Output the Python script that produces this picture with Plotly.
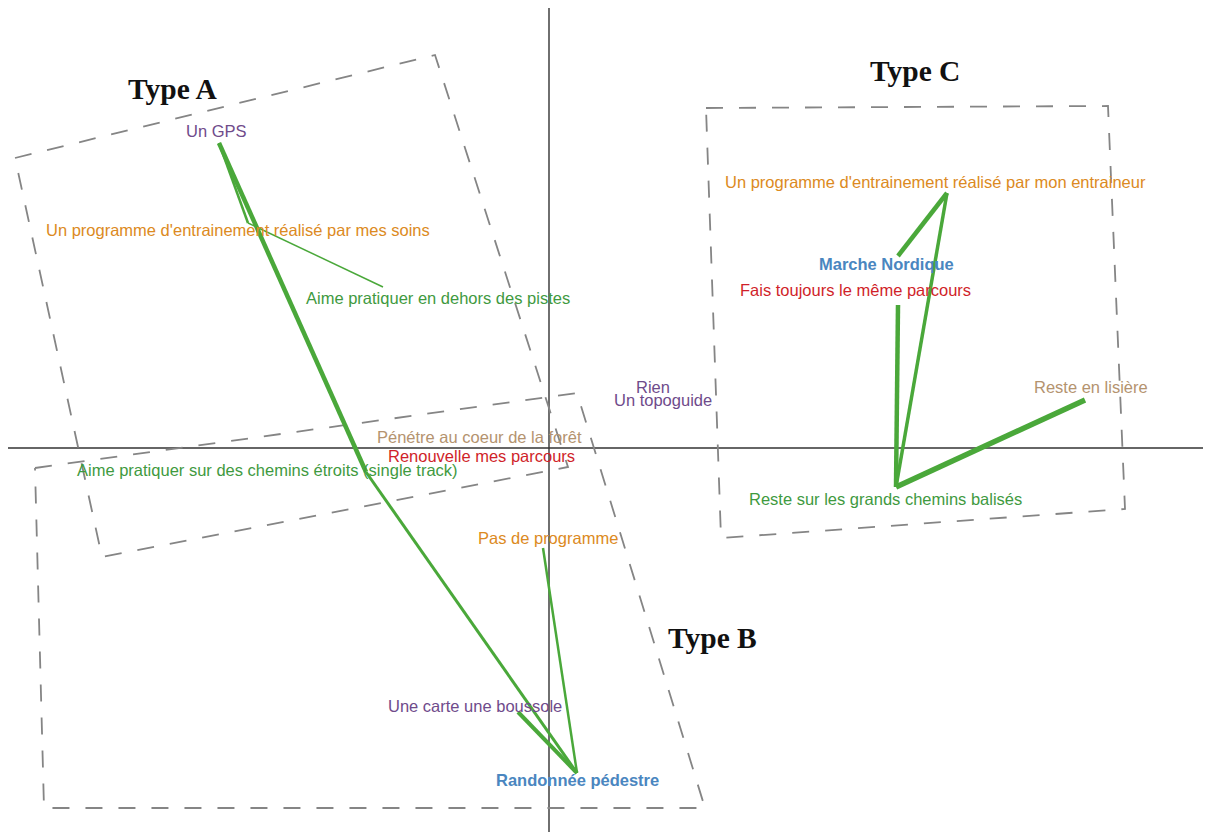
"""Correspondence-style map of hiking profiles (Type A / B / C) with Plotly."""

import plotly.graph_objects as go

# ----------------------------------------------------------------- data

# modalities: coordinates on axis 1 / axis 2
mod_names = [
    "Un GPS",
    "Un programme d'entrainement réalisé par mes soins",
    "Aime pratiquer en dehors des pistes",
    "Aime pratiquer sur des chemins étroits (single track)",
    "Randonnée pédestre",
    "Pas de programme",
    "Une carte une boussole",
    "Reste sur les grands chemins balisés",
    "Reste en lisière",
    "Fais toujours le même parcours",
    "Un programme d'entrainement réalisé par mon entraineur",
    "Marche Nordique",
    "Rien",
    "Un topoguide",
    "Pénétre au coeur de la forêt",
    "Renouvelle mes parcours",
]
mod_x = [-3.30, -3.01, -1.66, -1.83, 0.28, -0.06, -0.31, 3.47, 5.36, 3.49, 3.98, 3.49, 1.04, 1.14, -0.70, -0.68]
mod_y = [3.05, 2.25, 1.61, -0.24, -3.25, -1.00, -2.64, -0.39, 0.48, 1.43, 2.55, 1.92, 0.61, 0.48, 0.11, -0.08]
mod_group = [
    "outil", "programme", "terrain", "terrain", "activite", "programme", "outil",
    "terrain", "foret", "parcours", "programme", "activite", "outil", "outil", "foret", "parcours",
]

# links between modalities (index a, index b, strength)
edge_a = [0, 3, 0, 1, 4, 4, 7, 7, 7, 10]
edge_b = [3, 4, 1, 2, 5, 6, 8, 9, 10, 11]
edge_strength = [4.5, 3.0, 2.5, 1.5, 2.5, 4.0, 5.5, 4.5, 3.5, 4.5]

# profile envelopes
type_names = ["Type A", "Type B", "Type C"]
type_label_x = [-3.77, 1.63, 3.66]
type_label_y = [3.59, -1.90, 3.77]
type_a_x = [-5.34, -1.14, 0.19, -4.47]
type_a_y = [2.90, 3.93, -0.19, -1.09]
type_b_x = [-5.14, 0.28, 1.56, -5.05]
type_b_y = [-0.20, 0.55, -3.60, -3.60]
type_c_x = [1.57, 5.59, 5.76, 1.72]
type_c_y = [3.40, 3.42, -0.61, -0.90]

# axis extents
axis_x = [-5.41, 6.62]
axis_y = [4.40, -3.84]

# ----------------------------------------------------------------- style

GROUP_COLOR = {
    "outil": "#6f4b8b",
    "programme": "#dc8a22",
    "terrain": "#3f9a3f",
    "activite": "#4a86c0",
    "foret": "#b4936f",
    "parcours": "#d01f2a",
}
EDGE_COLOR = "#4aa83a"
ENVELOPE_COLOR = "#858585"
SANS = "Liberation Sans, Arial, sans-serif"
SERIF = "Liberation Serif, Times New Roman, serif"

# label offsets from the point, in pixels (dx right, dy up)
label_dx = [-3, -10, 55, -99, 0, 5, -43, -11, 6, -43, -12, -12, 0, 0, 0, 0]
label_dy = [12, -7, -11, 2, -7, 10, 6, -12, 13, 15, 11, -8, 0, 0, 0, 0]

fig = go.Figure()

# axes
fig.add_trace(go.Scatter(x=axis_x, y=[0, 0], mode="lines",
                         line=dict(color="#333333", width=1.4), hoverinfo="skip"))
fig.add_trace(go.Scatter(x=[0, 0], y=axis_y, mode="lines",
                         line=dict(color="#333333", width=1.4), hoverinfo="skip"))

# envelopes
for xs, ys in [(type_a_x, type_a_y), (type_b_x, type_b_y), (type_c_x, type_c_y)]:
    fig.add_trace(go.Scatter(
        x=xs + xs[:1], y=ys + ys[:1], mode="lines",
        line=dict(color=ENVELOPE_COLOR, width=1.8, dash="17px,16px"),
        hoverinfo="skip",
    ))

# links
for a, b, s in zip(edge_a, edge_b, edge_strength):
    fig.add_trace(go.Scatter(
        x=[mod_x[a], mod_x[b]], y=[mod_y[a], mod_y[b]], mode="lines",
        line=dict(color=EDGE_COLOR, width=s), hoverinfo="skip",
    ))

# modality labels
for name, x, y, g, dx, dy in zip(mod_names, mod_x, mod_y, mod_group, label_dx, label_dy):
    bold = g == "activite"
    fig.add_annotation(
        x=x, y=y, xref="x", yref="y", showarrow=False,
        text=f"<b>{name}</b>" if bold else name,
        xshift=dx, yshift=dy, xanchor="center", yanchor="middle",
        font=dict(family=SANS, size=16.5, color=GROUP_COLOR[g]),
    )

# profile titles
for name, x, y in zip(type_names, type_label_x, type_label_y):
    fig.add_annotation(
        x=x, y=y, xref="x", yref="y", showarrow=False,
        text=f"<b>{name}</b>", xanchor="center", yanchor="middle",
        font=dict(family=SERIF, size=29.5, color="#111111"),
    )

# page body adds an 8px margin: plot 8px smaller, starting at the axis ends
fig.update_xaxes(range=[-5.41, 6.62], visible=False, fixedrange=True)
fig.update_yaxes(range=[-3.84, 4.40], visible=False, fixedrange=True)
fig.update_layout(
    width=1203, height=824,
    margin=dict(l=0, r=0, t=0, b=0),
    paper_bgcolor="white", plot_bgcolor="white",
    showlegend=False,
)

fig.write_html("out.html")
